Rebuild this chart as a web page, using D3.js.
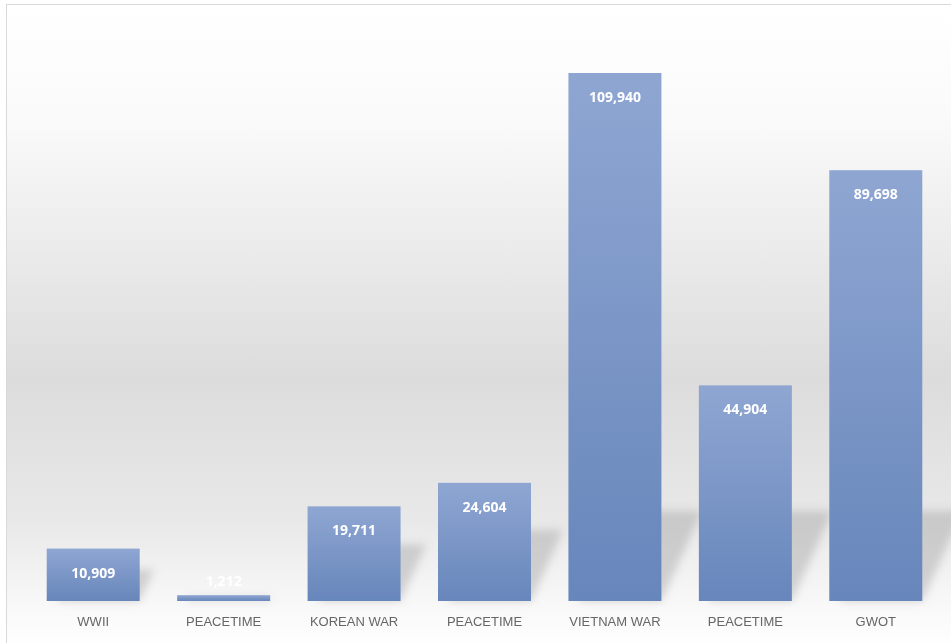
<!DOCTYPE html>
<html>
<head>
<meta charset="utf-8">
<script src="https://cdn.jsdelivr.net/npm/d3@7"></script>
<style>
  html, body { margin: 0; padding: 0; background: #fff; }
</style>
</head>
<body>
<svg id="chart"></svg>
<script>
const categories = ["WWII", "PEACETIME", "KOREAN WAR", "PEACETIME", "VIETNAM WAR", "PEACETIME", "GWOT"];
const values = [10909, 1212, 19711, 24604, 109940, 44904, 89698];

const width = 951, height = 643;
const baseY = 601, topY = 73;

const svg = d3.select("#chart")
    .attr("width", width)
    .attr("height", height);

const defs = svg.append("defs");

// panel background: white at top, grey band in the middle, light again near the axis
const bg = defs.append("linearGradient")
    .attr("id", "bg").attr("x1", 0).attr("y1", 0).attr("x2", 0).attr("y2", 1);
bg.append("stop").attr("offset", "0%").attr("stop-color", "#ffffff");
bg.append("stop").attr("offset", "18%").attr("stop-color", "#fafafa");
bg.append("stop").attr("offset", "58%").attr("stop-color", "#dcdcdc");
bg.append("stop").attr("offset", "80%").attr("stop-color", "#e8e8e8");
bg.append("stop").attr("offset", "94%").attr("stop-color", "#f9f9f9");
bg.append("stop").attr("offset", "100%").attr("stop-color", "#ffffff");

const barGrad = defs.append("linearGradient")
    .attr("id", "bar").attr("x1", 0).attr("y1", 0).attr("x2", 0).attr("y2", 1);
barGrad.append("stop").attr("offset", "0%").attr("stop-color", "#8fa6d2");
barGrad.append("stop").attr("offset", "100%").attr("stop-color", "#6786bb");

defs.append("filter").attr("id", "blur")
    .attr("x", "-30%").attr("y", "-30%").attr("width", "160%").attr("height", "160%")
    .append("feGaussianBlur").attr("stdDeviation", 4);

svg.append("rect")
    .attr("x", 6.5).attr("y", 4.5)
    .attr("width", width).attr("height", height)
    .attr("fill", "url(#bg)")
    .attr("stroke", "#d9d9d9");

const x = d3.scaleBand()
    .domain(d3.range(categories.length))
    .range([28, 941])
    .paddingInner(0.287)
    .paddingOuter(0.1435);

const y = d3.scaleLinear()
    .domain([0, 109940])
    .range([baseY, topY]);

// cast shadows to the right of each bar
svg.append("g")
    .attr("filter", "url(#blur)")
    .selectAll("polygon")
    .data(values)
    .join("polygon")
    .attr("fill", "#9a9a9a")
    .attr("opacity", 0.4)
    .attr("points", (d, i) => {
        const x0 = x(i) + 10, x1 = x(i) + x.bandwidth();
        const s = Math.min((baseY - y(d)) * 0.6, 90);
        const dx = s * 0.45;
        return [[x0, baseY], [x1, baseY], [x1 + dx, baseY - s], [x0 + dx, baseY - s]].join(" ");
    });

svg.append("g")
    .selectAll("rect")
    .data(values)
    .join("rect")
    .attr("x", (d, i) => x(i))
    .attr("y", d => y(d))
    .attr("width", x.bandwidth())
    .attr("height", d => baseY - y(d))
    .attr("fill", "url(#bar)");

svg.append("g")
    .selectAll("text")
    .data(values)
    .join("text")
    .attr("x", (d, i) => x(i) + x.bandwidth() / 2)
    .attr("y", d => Math.min(y(d) + 24, baseY - 20))
    .attr("dy", "0.35em")
    .attr("text-anchor", "middle")
    .attr("fill", "#fff")
    .attr("font-family", "'Open Sans', 'Liberation Sans', sans-serif")
    .attr("font-weight", "bold")
    .attr("font-size", 14)
    .text(d => d3.format(",")(d));

const xAxis = svg.append("g")
    .attr("transform", `translate(0,${baseY})`)
    .call(d3.axisBottom(x).tickSize(0).tickPadding(16).tickFormat(i => categories[i]));
xAxis.select(".domain").remove();
xAxis.selectAll("text")
    .attr("fill", "#666")
    .attr("font-family", "'Liberation Sans', Arial, sans-serif")
    .attr("font-size", 13);
</script>
</body>
</html>
